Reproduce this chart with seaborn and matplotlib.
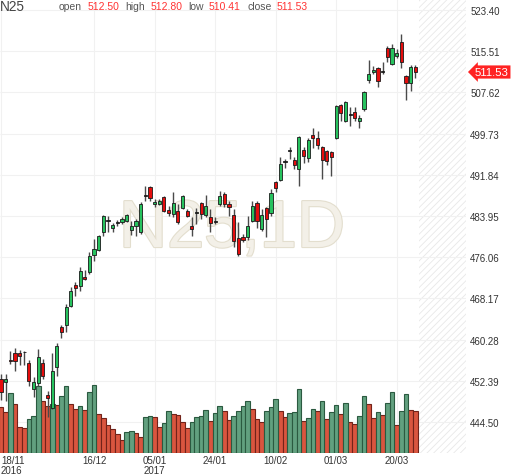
import numpy as np
import pandas as pd
import matplotlib
matplotlib.use("Agg")
import matplotlib.pyplot as plt
import matplotlib.patheffects as pe
import matplotlib.transforms as mtransforms
import seaborn as sns

# daily candles, 18/11/2016 .. 24/03/2017
opens = [452.74, 452.16, 456.47, 457.71, 457.71, 457.85, 455.80, 450.82, 451.97, 455.80,
         449.67, 447.18, 455.03, 462.69, 463.08, 466.71, 470.74, 470.55, 472.27, 473.23,
         476.48, 477.44, 480.89, 482.99, 481.65, 482.71, 482.80, 482.99, 481.27, 482.04,
         480.89, 487.97, 489.50, 486.25, 486.34, 487.59, 485.10, 484.33, 484.91, 485.48,
         484.91, 482.04, 484.53, 486.44, 484.14, 483.76, 482.80, 486.25, 488.16, 486.25,
         484.14, 479.74, 479.93, 479.93, 482.99, 486.44, 481.46, 485.48, 484.53, 490.46,
         490.85, 494.48, 496.40, 494.68, 492.95, 496.59, 495.06, 499.46, 498.89, 497.16,
         496.40, 496.21, 498.89, 505.21, 502.14, 503.48, 503.87, 502.14, 504.44, 509.99,
         511.53, 512.29, 511.53, 516.12, 513.06, 514.59, 517.27, 510.76, 509.42, 512.50]
highs = [453.69, 453.69, 458.10, 458.67, 458.29, 458.10, 456.37, 453.12, 458.48, 456.57,
         450.44, 457.71, 459.63, 463.08, 467.10, 470.35, 471.31, 474.19, 473.61, 477.06,
         479.55, 480.31, 484.14, 483.95, 482.61, 483.28, 483.76, 484.33, 482.99, 483.38,
         486.63, 489.69, 489.69, 487.21, 487.21, 487.78, 485.87, 488.55, 486.25, 487.97,
         485.29, 483.76, 485.48, 486.63, 487.97, 485.29, 483.76, 488.74, 488.55, 486.82,
         485.29, 482.80, 480.50, 483.95, 486.82, 486.82, 485.29, 485.67, 489.12, 490.65,
         495.25, 494.87, 497.16, 495.25, 499.27, 497.16, 498.89, 500.80, 500.23, 497.36,
         496.59, 496.40, 505.21, 505.40, 505.97, 504.82, 504.82, 503.29, 507.89, 513.83,
         512.68, 512.48, 513.44, 516.51, 516.89, 515.93, 518.80, 510.95, 512.87, 512.80]
lows = [448.72, 448.52, 455.61, 454.27, 455.42, 455.42, 451.40, 449.29, 451.40, 452.74,
        445.46, 446.99, 453.31, 460.59, 461.74, 466.52, 468.63, 469.59, 471.70, 472.84,
        475.33, 477.25, 480.12, 480.89, 480.89, 482.04, 482.42, 482.80, 480.31, 480.12,
        480.50, 486.82, 486.82, 485.67, 486.06, 484.72, 483.95, 483.76, 482.42, 485.29,
        483.76, 480.12, 482.42, 483.38, 483.76, 480.89, 482.42, 485.87, 485.67, 483.95,
        478.02, 476.29, 478.97, 479.36, 482.80, 481.65, 481.08, 479.93, 483.95, 488.55,
        490.65, 493.14, 494.87, 492.95, 489.70, 494.10, 494.29, 496.97, 496.78, 491.04,
        493.72, 491.61, 498.70, 502.14, 501.95, 501.19, 502.14, 500.80, 504.06, 509.42,
        511.14, 508.66, 511.14, 513.44, 512.87, 514.21, 512.29, 506.16, 507.89, 510.41]
closes = [450.25, 452.74, 456.18, 456.18, 457.14, 457.85, 452.35, 452.16, 456.95, 453.31,
          449.10, 454.27, 459.06, 461.74, 466.52, 469.59, 470.16, 473.42, 471.89, 476.29,
          477.63, 480.12, 483.95, 483.09, 482.23, 482.80, 483.38, 484.14, 482.04, 482.99,
          486.25, 487.88, 487.40, 486.63, 486.82, 484.91, 484.53, 486.44, 482.80, 487.78,
          483.95, 481.56, 484.53, 484.33, 485.87, 482.61, 482.90, 487.78, 486.25, 485.67,
          479.16, 476.67, 479.36, 482.04, 485.87, 482.99, 484.14, 483.38, 488.36, 489.31,
          493.91, 494.39, 496.49, 493.72, 499.08, 495.44, 498.50, 498.89, 497.55, 494.68,
          494.48, 495.25, 505.02, 503.68, 505.78, 503.39, 502.72, 502.72, 507.70, 511.14,
          511.91, 509.80, 511.53, 514.40, 516.12, 515.17, 513.44, 509.42, 512.48, 511.53]
volumes = [46, 41, 60, 49, 26, 25, 34, 37, 67, 52,
           47, 49, 48, 57, 67, 49, 44, 47, 43, 61,
           68, 39, 35, 28, 24, 19, 13, 21, 22, 20,
           16, 36, 37, 36, 26, 30, 42, 39, 38, 31,
           25, 31, 36, 37, 43, 32, 40, 47, 42, 33,
           37, 42, 47, 52, 44, 34, 31, 42, 46, 54,
           42, 36, 40, 41, 64, 32, 35, 44, 42, 52,
           34, 41, 48, 39, 50, 31, 29, 37, 57, 49,
           35, 41, 38, 50, 61, 28, 42, 59, 43, 42]

tick_bars = [0, 20, 33, 46, 59, 72, 85]
tick_labels = ["18/11\n2016", "16/12", "05/01\n2017", "24/01", "10/02", "01/03", "20/03"]
price_ticks = [444.50, 452.39, 460.28, 468.17, 476.06, 483.95, 491.84, 499.73, 507.62, 515.51, 523.40]

symbol = "N25"
interval = "1D"

sns.set_theme(style="white")
plt.rcParams["font.family"] = ["Liberation Sans", "DejaVu Sans"]
plt.rcParams["hatch.linewidth"] = 0.6

W, H = 512, 477
fig = plt.figure(figsize=(W / 100, H / 100), dpi=100)
vax = fig.add_axes([0, 1 - 454 / H, 466 / W, 454 / H])
ax = vax.twinx()

o = np.array(opens); h = np.array(highs); l = np.array(lows); c = np.array(closes)
v = np.array(volumes)
idx = np.arange(len(o))

# volume bars (colour = volume up/down vs previous day)
vol_dir = np.where(np.r_[False, v[1:] > v[:-1]], "up", "down")
df = pd.DataFrame({"bar": idx, "volume": v, "dir": vol_dir})
vol_pal = {"up": "#62a07f", "down": "#d9553f"}
vol_edge = {"up": "#2b5a40", "down": "#72231a"}
sns.barplot(data=df, x="bar", y="volume", hue="dir", palette=vol_pal, native_scale=True,
            dodge=False, width=1.0, errorbar=None, saturation=1, legend=False,
            linewidth=0.8, ax=vax, zorder=2)
for p in vax.patches:
    fc = matplotlib.colors.to_hex(p.get_facecolor())
    p.set_edgecolor(vol_edge["up"] if fc == vol_pal["up"] else vol_edge["down"])

xlim = (-0.21, 99.9)
vax.set_xlim(*xlim)
vax.set_ylim(0, v.max() * 6.68)
vax.set_xlabel(""); vax.set_ylabel("")
vax.set_yticks([])
vax.set_xticks(tick_bars)
vax.set_xticklabels(tick_labels, linespacing=1.05)
vax.get_xticklabels()[0].set_ha("left")
vax.tick_params(axis="x", length=0, pad=1.5, labelsize=7, labelcolor="#333333")
vax.xaxis.grid(True, color="#f1f1f1", lw=0.8)
vax.set_axisbelow(True)
vax.hlines(price_ticks, xlim[0], xlim[1], colors="#f1f1f1", lw=0.8,
           transform=ax.transData, zorder=0.5)
vax.axvspan(89.8, xlim[1] + 1, facecolor="white", edgecolor="#e8e8e8",
            hatch="/////", lw=0, zorder=0.4)

# candles
ax.set_xlim(*xlim)
ax.set_ylim(438.57, 525.51)
ax.text(0.498, (454 - 248) / 454, f"{symbol},{interval}", transform=ax.transAxes,
        ha="center", va="baseline", fontsize=48, color="#f3f0e8", zorder=1,
        path_effects=[pe.Stroke(linewidth=1.6, foreground="#e3dece"), pe.Normal()])
ax.vlines(idx, l, h, color="#4a4a4a", lw=1.0, zorder=2)
up = c > o
doji = np.abs(c - o) < 0.15
body_col = np.where(doji, "#222222", np.where(up, "#27c25e", "#e50d0d"))
ax.bar(idx, np.maximum(np.abs(c - o), 0.12), bottom=np.minimum(o, c), width=0.68,
       color=body_col, edgecolor="#1a1a1a", linewidth=0.6, zorder=3)

ax.set_yticks(price_ticks)
ax.set_yticklabels([f"{t:.2f}" for t in price_ticks])
ax.tick_params(axis="y", length=0, pad=3, labelsize=7, labelcolor="#333333")
for a in (ax, vax):
    for s in a.spines.values():
        s.set_visible(False)

# last price tag
trans = mtransforms.blended_transform_factory(ax.transAxes, ax.transData)
ax.text(1 + 9 / 466, c[-1], f"{c[-1]:.2f}", transform=trans, ha="left", va="center",
        fontsize=8.2, color="white", clip_on=False, zorder=5,
        bbox=dict(boxstyle="larrow,pad=0.14", fc="#ff2323", ec="none"))

# header
def px(x, y):
    return x / W, 1 - y / H

fig.text(*px(0, 10.7), symbol, fontsize=9.8, color="#444444", va="baseline")
header = [("open", o[-1], 59, 88), ("high", h[-1], 125, 151),
          ("low", l[-1], 188, 209), ("close", c[-1], 247, 277)]
for name, val, xn, xv in header:
    fig.text(*px(xn, 9.5), name, fontsize=7.5, color="#555555", va="baseline")
    fig.text(*px(xv, 9.5), f"{val:.2f}", fontsize=7.5, color="#ff3333", va="baseline")

fig.savefig("out.png", dpi=100)
